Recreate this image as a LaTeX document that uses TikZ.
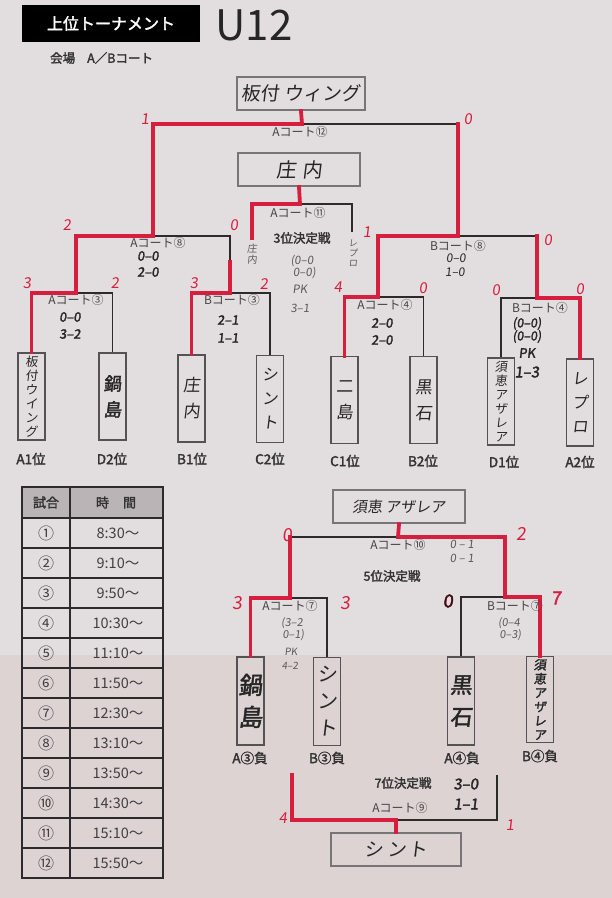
\documentclass[tikz,border=0pt]{standalone}
\usepackage{fontspec}
\setmainfont{Noto Sans CJK JP}
\newfontfamily\jp{Noto Sans CJK JP}
\newfontfamily\jpb{Noto Sans CJK JP}[FakeBold=2.2]
\newfontfamily\hand{Noto Sans CJK JP}[FakeSlant=0.12]
\newfontfamily\handb{Noto Sans CJK JP}[FakeSlant=0.12,FakeBold=2]
\newcommand\fsz[1]{\fontsize{#1}{#1}\selectfont}
\definecolor{paper}{RGB}{226,221,222}
\definecolor{paper2}{RGB}{222,211,211}
\definecolor{redc}{RGB}{214,30,62}
\definecolor{linec}{RGB}{45,42,45}
\definecolor{boxc}{RGB}{85,82,85}
\definecolor{hdr}{RGB}{186,180,182}
\definecolor{courtc}{RGB}{70,67,70}
\tikzset{
  rl/.style={draw=redc, line width=3.8pt, line join=miter, line cap=rect},
  bl/.style={draw=linec, line width=1.3pt, line join=miter},
  team/.style={draw=boxc, line width=1.1pt, minimum width=27pt, minimum height=87pt, inner sep=0pt, align=center, text=black!85},
  winbox/.style={draw=boxc!80, line width=2.2pt, minimum height=33pt, inner sep=0pt, text=black!85},
  court/.style={font=\jp\fsz{12}, text=courtc, inner sep=0pt},
  score/.style={font=\hand\fsz{15}, text=redc, inner sep=0pt},
  hs/.style={font=\handb\fsz{13}, text=black!85, inner sep=0pt},
  hsg/.style={font=\hand\fsz{11.5}, text=black!65, inner sep=0pt},
  rank/.style={font=\jpb\fsz{13.5}, text=black!80, inner sep=0pt},
  bold/.style={font=\jpb\fsz{12.5}, text=black!80, inner sep=0pt},
  cell/.style={font=\jp\fsz{14.5}, text=black!75, inner sep=0pt}
}
\begin{document}
\begin{tikzpicture}[x=1pt,y=-1pt]
\fill[paper] (0,0) rectangle (612,898);
\fill[paper2] (0,655) rectangle (612,898);
\useasboundingbox (0,0) rectangle (612,898);

% ---------- title ----------
\node[fill=black, minimum width=178pt, minimum height=37pt, inner sep=0pt, text=white, font=\jpb\fsz{16}] (title) at (111,23.5) {上位トーナメント};
\node[font=\jp\fsz{42}, text=black!85, inner sep=0pt] (u12) at (254,25) {U12};
\node[anchor=west, font=\jpb\fsz{12.5}, text=black!80, inner sep=0pt] (venue) at (50,58) {会場\hspace{12pt}A／Bコート};

% ---------- winner boxes ----------
\node[winbox, minimum width=128pt, font=\hand\fsz{19}] (champ) at (301,93.5) {板付 ウィング};
\node[winbox, minimum width=122pt, font=\hand\fsz{20}] (third) at (299,169.5) {庄\hspace{6pt}内};

% ---------- team boxes (upper) ----------
\node[team, font=\hand\fontsize{12.5}{14}\selectfont] (t1) at (31.5,396.5) {板\\付\\ウ\\イ\\ン\\グ};
\node[team, font=\handb\fontsize{18}{26}\selectfont] (t2) at (112.5,396.5) {鍋\\島};
\node[team, font=\hand\fontsize{17}{26}\selectfont] (t3) at (191.5,398.5) {庄\\内};
\node[team, font=\hand\fontsize{16}{24}\selectfont] (t4) at (270,399) {シ\\ン\\ト};
\node[team, font=\hand\fontsize{17}{26}\selectfont] (t5) at (344.5,400) {二\\島};
\node[team, font=\hand\fontsize{17}{26}\selectfont] (t6) at (423.5,400) {黒\\石};
\node[team, font=\hand\fontsize{12.5}{14}\selectfont] (t7) at (501,401.5) {須\\恵\\ア\\ザ\\レ\\ア};
\node[team, font=\hand\fontsize{16}{24}\selectfont] (t8) at (580,402.5) {レ\\プ\\ロ};

\node[rank] (r1) at (31,459) {A1位};
\node[rank] (r2) at (112,459) {D2位};
\node[rank] (r3) at (192,459) {B1位};
\node[rank] (r4) at (270,459) {C2位};
\node[rank] (r5) at (345,461) {C1位};
\node[rank] (r6) at (423,461) {B2位};
\node[rank] (r7) at (504,462) {D1位};
\node[rank] (r8) at (580,462) {A2位};

% ---------- coordinates (upper bracket) ----------
\coordinate (fC) at (302,124);
\coordinate (fL) at (153,124);
\coordinate (fR) at (458,124);
\coordinate (sL) at (153,236);
\coordinate (sR) at (458,236);
\coordinate (a8L) at (76,236);
\coordinate (a8R) at (230,236);
\coordinate (a8Rm) at (230,262);
\coordinate (a3top) at (76,293);
\coordinate (a3L) at (31.5,293);
\coordinate (a3R) at (112.5,293);
\coordinate (b3top) at (230,293);
\coordinate (b3L) at (191.5,293);
\coordinate (b3R) at (270,293);
\coordinate (b8L) at (378,236);
\coordinate (b8R) at (537,236);
\coordinate (a4top) at (378,297);
\coordinate (a4L) at (344.5,297);
\coordinate (a4R) at (423.5,297);
\coordinate (b4top) at (537,298);
\coordinate (b4L) at (501,298);
\coordinate (b4R) at (580,298);
\coordinate (tC) at (300,204);
\coordinate (tL) at (252,204);
\coordinate (tR) at (352,204);
\coordinate (tLe) at (252,238);
\coordinate (tRe) at (352,232);

% black lines first
\draw[bl] (fC) -- (fR);
\draw[bl] (sL) -- (a8R) -- (a8Rm);
\draw[bl] (a3top) -- (a3R) -- (t2.north);
\draw[bl] (b3top) -- (b3R) -- (t4.north);
\draw[bl] (sR) -- (b8R);
\draw[bl] (a4top) -- (a4R) -- (t6.north);
\draw[bl] (b4top) -- (b4L) -- (t7.north);
\draw[bl] (tC) -- (tR) -- (tRe);
% red lines
\draw[rl] (champ.south) -- (fC) -- (fL) -- (sL);
\draw[rl] (fR) -- (sR);
\draw[rl] (sL) -- (a8L) -- (a3top);
\draw[rl] (a8Rm) -- (b3top);
\draw[rl] (a3top) -- (a3L) -- (t1.north);
\draw[rl] (b3top) -- (b3L) -- (t3.north);
\draw[rl] (sR) -- (b8L) -- (a4top);
\draw[rl] (a4top) -- (a4L) -- (t5.north);
\draw[rl] (b8R) -- (b4top);
\draw[rl] (b4top) -- (b4R) -- (t8.north);
\draw[rl] (third.south) -- (tC) -- (tL) -- (tLe);

% labels upper
\node[court] (cA12) at (300,132) {Aコート⑫};
\node[court] (cA11) at (298,213) {Aコート⑪};
\node[court] (cA8) at (158,243) {Aコート⑧};
\node[court] (cB8) at (458,246) {Bコート⑧};
\node[court] (cA3) at (76,300) {Aコート③};
\node[court] (cB3) at (232,300) {Bコート③};
\node[court] (cA4) at (385,305) {Aコート④};
\node[court] (cB4) at (540,308) {Bコート④};

\node[bold] (third3) at (302,238) {3位決定戦};
\node[hsg, align=center, font=\hand\fontsize{11.5}{11.5}\selectfont] (p3a) at (302,267) {(0–0\\\hspace{5pt}0–0)};
\node[hsg] (p3b) at (300,289) {PK};
\node[hsg] (p3c) at (300,308) {3–1};
\node[hsg, align=center, font=\hand\fontsize{10}{10.5}\selectfont] (sh1) at (252,254) {庄\\内};
\node[hsg, align=center, font=\hand\fontsize{9}{10}\selectfont] (sh2) at (353,253) {レ\\プ\\ロ};

\node[hs] (s8a) at (148,256) {0–0};
\node[hs] (s8b) at (148,272) {2–0};
\node[hs, font=\hand\fsz{12}] (s8c) at (456,258) {0–0};
\node[hs, font=\hand\fsz{12}] (s8d) at (455,272) {1–0};
\node[hs] (s3a) at (70,317) {0–0};
\node[hs] (s3b) at (70,334) {3–2};
\node[hs] (s3c) at (228,320) {2–1};
\node[hs] (s3d) at (228,338) {1–1};
\node[hs] (s4a) at (382,323) {2–0};
\node[hs] (s4b) at (382,340) {2–0};
\node[hs, align=center, font=\handb\fontsize{12.5}{13}\selectfont] (s4c) at (527,330) {(0–0)\\(0–0)};
\node[hs] (s4d) at (527,353) {PK};
\node[hs, font=\handb\fsz{15}] (s4e) at (527,372) {1–3};

\node[score] (n1) at (145,119) {1};
\node[score] (n2) at (468,119) {0};
\node[score] (n3) at (67,225) {2};
\node[score] (n4) at (234,225) {0};
\node[score] (n5) at (367,232) {1};
\node[score] (n6) at (548,240) {0};
\node[score] (n7) at (27,283) {3};
\node[score] (n8) at (115,283) {2};
\node[score] (n9) at (194,283) {3};
\node[score] (n10) at (264,284) {2};
\node[score] (n11) at (338,287) {4};
\node[score] (n12) at (423,288) {0};
\node[score] (n13) at (496,290) {0};
\node[score] (n14) at (580,289) {0};

% ---------- schedule table ----------
\fill[hdr] (22,487) rectangle (163,518);
\node[font=\jpb\fsz{13}, text=black!80, inner sep=0pt] (th1) at (46,502.5) {試合};
\node[font=\jpb\fsz{13}, text=black!80, inner sep=0pt] (th2) at (116,502.5) {時\hspace{14pt}間};
\foreach \i/\c/\t in {1/①/8:30～,2/②/9:10～,3/③/9:50～,4/④/10:30～,5/⑤/11:10～,6/⑥/11:50～,7/⑦/12:30～,8/⑧/13:10～,9/⑨/13:50～,10/⑩/14:30～,11/⑪/15:10～,12/⑫/15:50～}{
  \pgfmathsetmacro\yy{518+30*(\i-1)+15}
  \node[cell, font=\jp\fsz{16}] (g\i) at (46,\yy) {\c};
  \node[cell] (tm\i) at (118,\yy) {\t};
  \draw[linec, line width=1.2pt] (22,{518+30*(\i-1)}) -- (163,{518+30*(\i-1)});
}
\draw[linec, line width=1.6pt] (22,487) rectangle (163,878);
\draw[linec, line width=1.2pt] (70,487) -- (70,878);

% ---------- 5th place ----------
\node[winbox, minimum width=132pt, font=\hand\fsz{15}] (fifth) at (399,506.5) {須恵 アザレア};
\node[team, minimum height=88pt, font=\handb\fontsize{24}{32}\selectfont] (t9) at (250.5,701) {鍋\\島};
\node[team, minimum height=88pt, font=\hand\fontsize{20}{27}\selectfont] (t10) at (327,701.5) {シ\\ン\\ト};
\node[team, minimum height=88pt, font=\handb\fontsize{22}{32}\selectfont] (t11) at (461,701) {黒\\石};
\node[team, minimum height=86pt, font=\handb\fontsize{12.5}{14}\selectfont] (t12) at (540,699.5) {須\\恵\\ア\\ザ\\レ\\ア};
\node[rank] (r9) at (250,758) {A③負};
\node[rank] (r10) at (327,758) {B③負};
\node[rank] (r11) at (462,758) {A④負};
\node[rank] (r12) at (540,756) {B④負};

\coordinate (f5C) at (398,537);
\coordinate (f5L) at (290,537);
\coordinate (f5R) at (505,537);
\coordinate (a7top) at (290,598);
\coordinate (a7L) at (250.5,598);
\coordinate (a7R) at (327,598);
\coordinate (b7top) at (505,597);
\coordinate (b7L) at (461,597);
\coordinate (b7R) at (540,597);

\draw[bl] (f5C) -- (f5L);
\draw[bl] (a7top) -- (a7R) -- (t10.north);
\draw[bl] (b7top) -- (b7L) -- (t11.north);
\draw[rl] (fifth.south) -- (f5C) -- (f5R) -- (b7top);
\draw[rl] (f5L) -- (a7top);
\draw[rl] (a7top) -- (a7L) -- (t9.north);
\draw[rl] (b7top) -- (b7R) -- (t12.north);

\node[court] (cA10) at (398,545) {Aコート⑩};
\node[bold] (fifth5) at (392,576) {5位決定戦};
\node[hsg] (s10a) at (462,544) {0 – 1};
\node[hsg] (s10b) at (462,558) {0 – 1};
\node[court] (cA7) at (290,606) {Aコート⑦};
\node[court] (cB7) at (515,606) {Bコート⑦};
\node[hsg, align=center, font=\hand\fontsize{11}{12.5}\selectfont] (s7a) at (292,629) {(3–2\\\hspace{3pt}0–1)};
\node[hsg, font=\hand\fsz{10}] (s7b) at (291,652) {PK};
\node[hsg, font=\hand\fsz{10}] (s7c) at (290,666) {4–2};
\node[hsg, align=center, font=\hand\fontsize{11}{12.5}\selectfont] (s7d) at (509,629) {(0–4\\\hspace{3pt}0–3)};

\node[score, font=\hand\fsz{18}] (n15) at (287,535) {0};
\node[score, font=\hand\fsz{18}] (n16) at (521,534) {2};
\node[score, font=\hand\fsz{18}] (n17) at (237,603) {3};
\node[score, font=\hand\fsz{18}] (n18) at (345,603) {3};
\node[score, font=\handb\fsz{18}, text=black!70!redc] (n19) at (448,601) {0};
\node[score, font=\handb\fsz{18}] (n20) at (556,598) {7};

% ---------- 7th place ----------
\coordinate (s7L) at (292,775);
\coordinate (s7R) at (497,775);
\coordinate (s7BL) at (292,820);
\coordinate (s7BR) at (497,820);
\coordinate (s7C) at (396,820);
\node[winbox, minimum width=130pt, font=\hand\fsz{19}] (seventh) at (396,849.5) {シ\hspace{4pt}ン\hspace{2pt}ト};
\draw[bl] (s7C) -- (s7BR) -- (s7R);
\draw[rl] (s7L) -- (s7BL) -- (s7C) -- (seventh.north);
\node[bold] (seventh7) at (403,783) {7位決定戦};
\node[hs, font=\handb\fsz{15}] (s9a) at (466,784) {3–0};
\node[hs, font=\handb\fsz{15}] (s9b) at (466,804) {1–1};
\node[court] (cA9) at (400,808) {Aコート⑨};
\node[score] (n21) at (283,818) {4};
\node[score] (n22) at (510,825) {1};
\end{tikzpicture}
\end{document}
